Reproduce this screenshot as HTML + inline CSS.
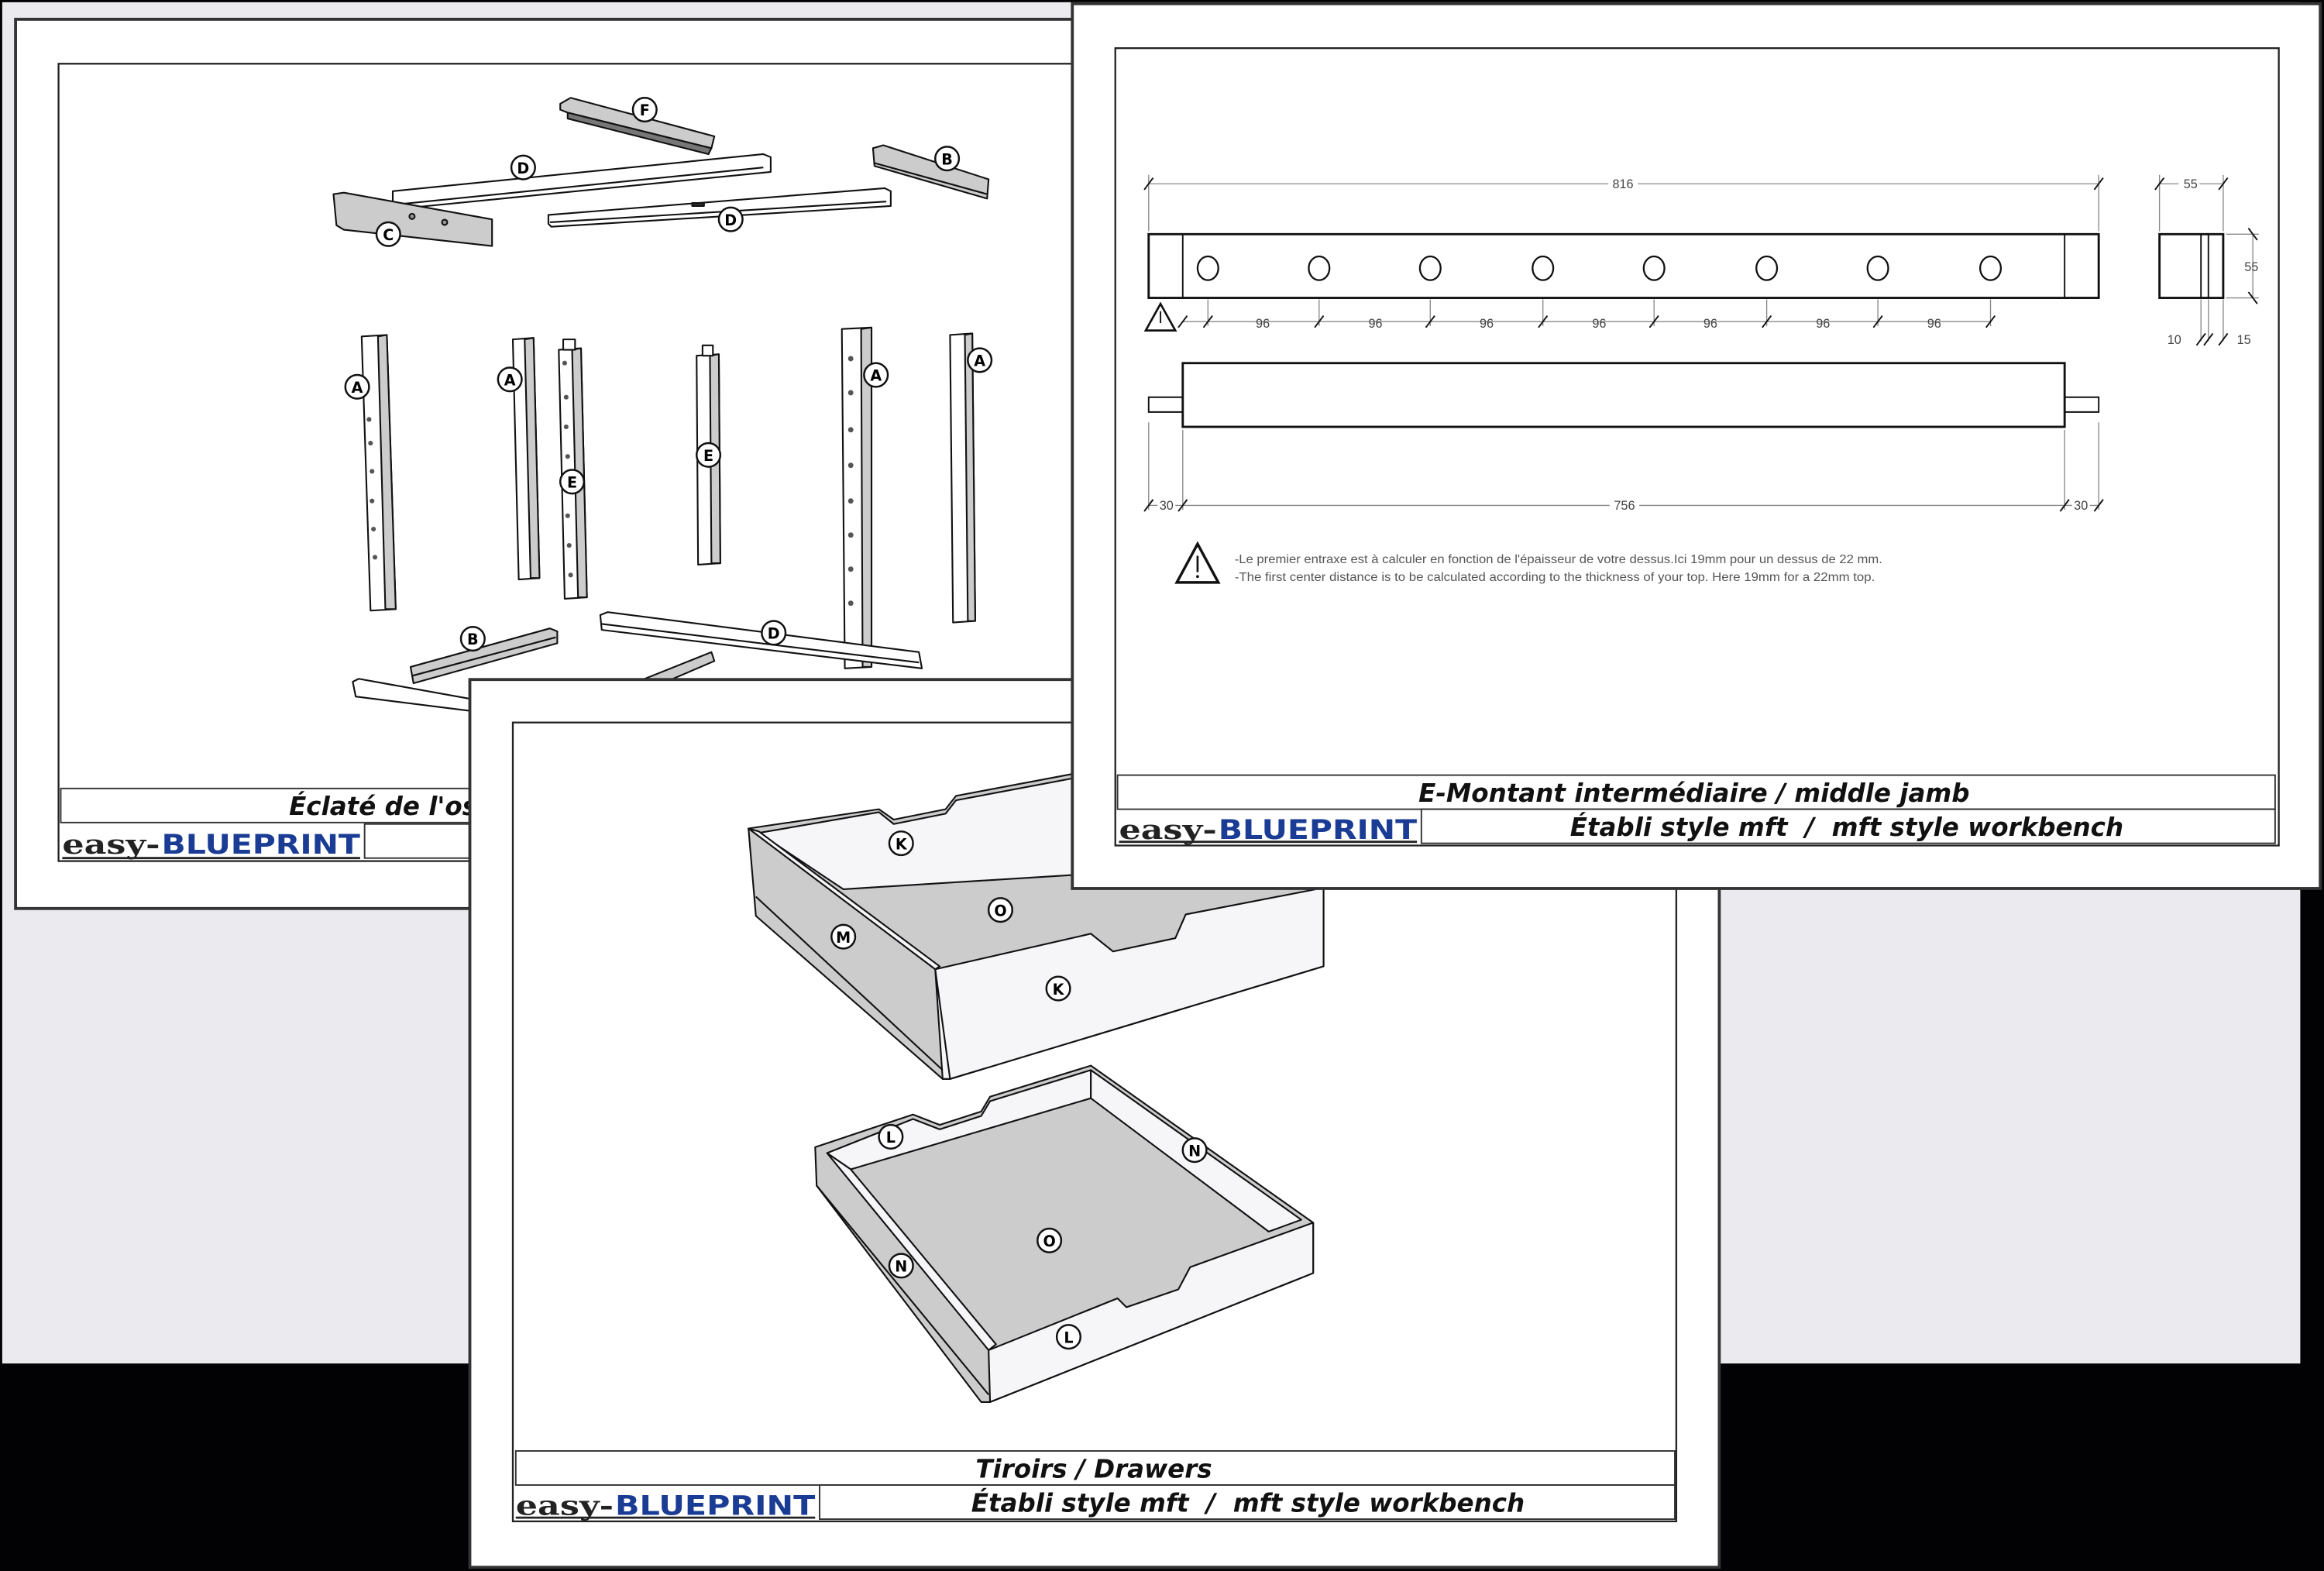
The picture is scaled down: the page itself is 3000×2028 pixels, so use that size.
<!DOCTYPE html>
<html><head><meta charset="utf-8"><style>
html,body{margin:0;padding:0;background:#000;}
svg{display:block}
</style></head><body>
<svg xmlns="http://www.w3.org/2000/svg" width="3000" height="2028" viewBox="0 0 1568 1060" preserveAspectRatio="none" font-family="'DejaVu Sans','Liberation Sans',sans-serif">
<defs>
<g id="lbl"><circle r="8" fill="#fff" stroke="#111" stroke-width="1.3"/></g>
</defs>
<rect x="0" y="0" width="1568" height="1060" fill="#020104"/>
<rect x="1.5" y="1.5" width="1550.5" height="918.5" fill="#ebeaee"/>

<!-- PAGE 1 -->
<rect x="10.5" y="13" width="740" height="600" fill="#fff" stroke="#333" stroke-width="2"/>
<rect x="39.5" y="43" width="700" height="538" fill="#fff" stroke="#222" stroke-width="1.2"/>
<g stroke="#111" stroke-width="1.1" stroke-linejoin="round">
 <polygon points="378,70 385,66 482,92 480,100 383,76 378,74" fill="#ccc"/>
 <polygon points="383,76 480,100 478,104 383,80" fill="#777"/>
 <polygon points="265,129 515,104 520,106 520,116 268,141 265,139" fill="#fff"/>
 <line x1="267" y1="138" x2="515" y2="113"/>
 <polygon points="225,131 232,130 332,148 332,166 232,155 227,152" fill="#ccc"/>
 <circle cx="278" cy="146" r="1.8" fill="#999"/><circle cx="300" cy="150" r="1.8" fill="#999"/>
 <polygon points="370,145 597,127 601,129 601,139 372,153 370,151" fill="#fff"/>
 <line x1="371" y1="150" x2="598" y2="136"/>
 <rect x="467" y="137" width="8" height="2" fill="#333"/>
 <polygon points="589,100 596,98 667,121 666,134 590,112" fill="#ccc"/>
 <line x1="590" y1="110" x2="666" y2="131"/>
 <polygon points="244,227 261,226 267,411 250,412" fill="#fff"/>
 <polygon points="255,227 261,226 267,411 260,411" fill="#ccc"/>
 <polygon points="346,229 360,228 364,390 350,391" fill="#fff"/>
 <polygon points="354,229 360,228 364,390 358,390" fill="#ccc"/>
 <polygon points="377,236 392,235 396,403 381,404" fill="#fff"/>
 <polygon points="386,236 392,235 396,403 390,403" fill="#ccc"/>
 <rect x="380" y="229" width="8" height="7" fill="#fff"/>
 <polygon points="470,240 485,239 486,380 471,381" fill="#fff"/>
 <polygon points="479,240 485,239 486,380 480,380" fill="#ccc"/>
 <rect x="474" y="233" width="7" height="7" fill="#fff"/>
 <polygon points="568,222 588,221 588,450 570,451" fill="#fff"/>
 <polygon points="581,222 588,221 588,450 582,450" fill="#ccc"/>
 <polygon points="641,226 656,225 658,419 643,420" fill="#fff"/>
 <polygon points="651,226 656,225 658,419 653,419" fill="#ccc"/>
 <polygon points="277,450 371,424 376,426 376,434 279,461" fill="#ccc"/>
 <line x1="278" y1="456" x2="375" y2="430"/>
 <polygon points="405,415 410,413 620,440 622,451 406,425" fill="#fff"/>
 <line x1="406" y1="421" x2="620" y2="447"/>
 <polygon points="238,460 242,458 320,472 320,480 240,470" fill="#fff"/>
 <polygon points="430,460 480,440 482,446 440,464" fill="#ccc"/>
</g>
<g fill="#555">
<circle cx="248" cy="260" r="1.6"/><circle cx="249" cy="283" r="1.6"/><circle cx="250" cy="299" r="1.6"/><circle cx="251" cy="318" r="1.6"/><circle cx="251" cy="338" r="1.6"/><circle cx="252" cy="357" r="1.6"/><circle cx="253" cy="376" r="1.6"/>
<circle cx="381" cy="245" r="1.6"/><circle cx="382" cy="268" r="1.6"/><circle cx="382" cy="288" r="1.6"/><circle cx="383" cy="308" r="1.6"/><circle cx="383" cy="348" r="1.6"/><circle cx="384" cy="368" r="1.6"/><circle cx="385" cy="388" r="1.6"/>
<circle cx="574" cy="242" r="1.8"/><circle cx="574" cy="265" r="1.8"/><circle cx="574" cy="290" r="1.8"/><circle cx="574" cy="314" r="1.8"/><circle cx="574" cy="338" r="1.8"/><circle cx="574" cy="361" r="1.8"/><circle cx="574" cy="384" r="1.8"/><circle cx="574" cy="407" r="1.8"/>
</g>
<g font-size="10" font-weight="bold" text-anchor="middle">
<use href="#lbl" x="435" y="74"/><text x="435" y="78">F</text>
<use href="#lbl" x="353" y="113"/><text x="353" y="117">D</text>
<use href="#lbl" x="639" y="107"/><text x="639" y="111">B</text>
<use href="#lbl" x="262" y="158"/><text x="262" y="162">C</text>
<use href="#lbl" x="493" y="148"/><text x="493" y="152">D</text>
<use href="#lbl" x="241" y="261"/><text x="241" y="265">A</text>
<use href="#lbl" x="344" y="256"/><text x="344" y="260">A</text>
<use href="#lbl" x="386" y="325"/><text x="386" y="329">E</text>
<use href="#lbl" x="478" y="307"/><text x="478" y="311">E</text>
<use href="#lbl" x="591" y="253"/><text x="591" y="257">A</text>
<use href="#lbl" x="661" y="243"/><text x="661" y="247">A</text>
<use href="#lbl" x="319" y="431"/><text x="319" y="435">B</text>
<use href="#lbl" x="522" y="427"/><text x="522" y="431">D</text>
</g>
<rect x="41" y="532" width="698" height="23" fill="#fff" stroke="#333" stroke-width="1"/>
<text x="195" y="550" font-size="17" font-weight="bold" font-style="italic" fill="#111">Éclaté de l'ossature / exploded view</text>
<rect x="246" y="556" width="493" height="23" fill="#fff" stroke="#333" stroke-width="1"/>
<text x="42" y="576" font-family="'DejaVu Serif','Liberation Serif',serif" font-weight="bold" font-size="18" fill="#222" textLength="66" lengthAdjust="spacingAndGlyphs">easy-</text>
<text x="109" y="576" font-weight="bold" font-size="18" fill="#1a3c94" textLength="134" lengthAdjust="spacingAndGlyphs">BLUEPRINT</text>
<line x1="42" y1="579" x2="243" y2="579" stroke="#222" stroke-width="1.5"/>

<!-- PAGE 2 -->
<rect x="317" y="458.5" width="843" height="599" fill="#fff" stroke="#333" stroke-width="2"/>
<rect x="346" y="487.5" width="785" height="539" fill="#fff" stroke="#222" stroke-width="1.2"/>
<g stroke="#111" stroke-width="1.1" stroke-linejoin="round">
 <!-- drawer 1 -->
 <polygon points="505,559 593,546 603,553 638,546 645,537 730,521 893,599 893,652 641,728 636,728 510,618" fill="#ccc"/>
 <polygon points="512,562 593,548 603,556 638,549 645,540 730,524 730,590 569,600" fill="#f6f5f8"/>
 <polygon points="505,559 512,561 634,652 631,654" fill="#f6f5f8"/>
 <polygon points="631,654 736,630 751,642 793,633 800,617 893,599 893,652 641,728 636,728" fill="#f6f5f8"/>
 <line x1="631" y1="654" x2="641" y2="728"/>
 <line x1="510" y1="605" x2="636" y2="722"/>
</g>
<g stroke="#111" stroke-width="1.1" stroke-linejoin="round">
 <!-- drawer 2 -->
 <polygon points="550,774 616,752 634,759 662,750 668,740 736,719 886,825 886,859 668,946 662,946 551,800" fill="#ccc"/>
 <polygon points="558,778 616,755 634,762 662,753 668,743 736,722 736,741 574,789" fill="#f6f5f8"/>
 <polygon points="736,722 878,823 856,831 736,741" fill="#f6f5f8"/>
 <polygon points="558,778 574,789 672,907 667,911" fill="#f6f5f8"/>
 <polygon points="667,911 754,876 760,882 795,870 803,855 886,825 886,859 668,946" fill="#f6f5f8"/>
 <line x1="551" y1="800" x2="667" y2="941"/>
</g>
<g font-size="10" font-weight="bold" text-anchor="middle">
<use href="#lbl" x="608" y="569"/><text x="608" y="573">K</text>
<use href="#lbl" x="675" y="614"/><text x="675" y="618">O</text>
<use href="#lbl" x="569" y="632"/><text x="569" y="636">M</text>
<use href="#lbl" x="714" y="667"/><text x="714" y="671">K</text>
<use href="#lbl" x="601" y="767"/><text x="601" y="771">L</text>
<use href="#lbl" x="806" y="776"/><text x="806" y="780">N</text>
<use href="#lbl" x="708" y="837"/><text x="708" y="841">O</text>
<use href="#lbl" x="608" y="854"/><text x="608" y="858">N</text>
<use href="#lbl" x="721" y="902"/><text x="721" y="906">L</text>
</g>
<rect x="348" y="979" width="782" height="23" fill="#fff" stroke="#333" stroke-width="1"/>
<text x="738" y="997" text-anchor="middle" font-size="17" font-weight="bold" font-style="italic" fill="#111">Tiroirs / Drawers</text>
<rect x="553" y="1002" width="577" height="23" fill="#fff" stroke="#333" stroke-width="1"/>
<text x="842" y="1020" text-anchor="middle" font-size="17" font-weight="bold" font-style="italic" fill="#111" xml:space="preserve">Établi style mft  /  mft style workbench</text>
<text x="348" y="1022" font-family="'DejaVu Serif','Liberation Serif',serif" font-weight="bold" font-size="18" fill="#222" textLength="66" lengthAdjust="spacingAndGlyphs">easy-</text>
<text x="415" y="1022" font-weight="bold" font-size="18" fill="#1a3c94" textLength="135" lengthAdjust="spacingAndGlyphs">BLUEPRINT</text>
<line x1="348" y1="1024" x2="550" y2="1024" stroke="#222" stroke-width="1.5"/>

<!-- PAGE 3 -->
<rect x="723.5" y="2.5" width="842" height="597" fill="#fff" stroke="#333" stroke-width="2"/>
<rect x="752.5" y="32.5" width="785" height="538" fill="#fff" stroke="#222" stroke-width="1.2"/>
<g stroke="#111" fill="none">
 <rect x="775" y="158" width="641" height="43" stroke-width="1.5"/>
 <line x1="798" y1="158" x2="798" y2="201"/><line x1="1393" y1="158" x2="1393" y2="201"/>
 <g stroke-width="1.2">
 <ellipse cx="815" cy="181" rx="7" ry="8"/><ellipse cx="890" cy="181" rx="7" ry="8"/><ellipse cx="965" cy="181" rx="7" ry="8"/><ellipse cx="1041" cy="181" rx="7" ry="8"/><ellipse cx="1116" cy="181" rx="7" ry="8"/><ellipse cx="1192" cy="181" rx="7" ry="8"/><ellipse cx="1267" cy="181" rx="7" ry="8"/><ellipse cx="1343" cy="181" rx="7" ry="8"/>
 </g>
 <rect x="1457" y="158" width="43" height="43" stroke-width="1.5"/>
 <line x1="1485" y1="158" x2="1485" y2="201"/><line x1="1490" y1="158" x2="1490" y2="201"/>
 <rect x="798" y="245" width="595" height="43" stroke-width="1.5"/>
 <polyline points="798,268 775,268 775,278 798,278"/>
 <polyline points="1393,268 1416,268 1416,278 1393,278"/>
</g>
<g stroke="#888" stroke-width="0.7" fill="none">
 <line x1="775" y1="124" x2="1416" y2="124"/>
 <line x1="775" y1="118" x2="775" y2="156"/><line x1="1416" y1="118" x2="1416" y2="156"/>
 <line x1="1457" y1="124" x2="1500" y2="124"/><line x1="1457" y1="118" x2="1457" y2="156"/><line x1="1500" y1="118" x2="1500" y2="156"/>
 <line x1="1520" y1="158" x2="1520" y2="201"/><line x1="1502" y1="158" x2="1524" y2="158"/><line x1="1502" y1="201" x2="1524" y2="201"/>
 <line x1="798" y1="217" x2="1343" y2="217"/>
 <line x1="815" y1="202" x2="815" y2="220"/><line x1="890" y1="202" x2="890" y2="220"/><line x1="965" y1="202" x2="965" y2="220"/><line x1="1041" y1="202" x2="1041" y2="220"/><line x1="1116" y1="202" x2="1116" y2="220"/><line x1="1192" y1="202" x2="1192" y2="220"/><line x1="1267" y1="202" x2="1267" y2="220"/><line x1="1343" y1="202" x2="1343" y2="220"/>
 <line x1="1485" y1="202" x2="1485" y2="230"/><line x1="1490" y1="202" x2="1490" y2="230"/><line x1="1500" y1="202" x2="1500" y2="230"/>
 <line x1="775" y1="341" x2="1416" y2="341"/>
 <line x1="775" y1="285" x2="775" y2="344"/><line x1="798" y1="290" x2="798" y2="344"/><line x1="1393" y1="290" x2="1393" y2="344"/><line x1="1416" y1="285" x2="1416" y2="344"/>
</g>
<g stroke="#111" stroke-width="1">
 <line x1="772" y1="128" x2="778" y2="120"/><line x1="1413" y1="128" x2="1419" y2="120"/>
 <line x1="1454" y1="128" x2="1460" y2="120"/><line x1="1497" y1="128" x2="1503" y2="120"/>
 <line x1="1517" y1="154" x2="1523" y2="162"/><line x1="1517" y1="197" x2="1523" y2="205"/>
 <line x1="795" y1="221" x2="801" y2="213"/><line x1="812" y1="221" x2="818" y2="213"/><line x1="887" y1="221" x2="893" y2="213"/><line x1="962" y1="221" x2="968" y2="213"/><line x1="1038" y1="221" x2="1044" y2="213"/><line x1="1113" y1="221" x2="1119" y2="213"/><line x1="1189" y1="221" x2="1195" y2="213"/><line x1="1264" y1="221" x2="1270" y2="213"/><line x1="1340" y1="221" x2="1346" y2="213"/>
 <line x1="1482" y1="233" x2="1488" y2="225"/><line x1="1487" y1="233" x2="1493" y2="225"/><line x1="1497" y1="233" x2="1503" y2="225"/>
 <line x1="772" y1="345" x2="778" y2="337"/><line x1="795" y1="345" x2="801" y2="337"/><line x1="1390" y1="345" x2="1396" y2="337"/><line x1="1413" y1="345" x2="1419" y2="337"/>
</g>
<g font-family="'Liberation Sans',sans-serif" font-size="8.5" fill="#444" text-anchor="middle">
 <rect x="1085" y="119" width="20" height="10" fill="#fff"/><text x="1095" y="127">816</text>
 <rect x="1470" y="119" width="14" height="10" fill="#fff"/><text x="1478" y="127">55</text>
 <text x="1519" y="183">55</text>
 <text x="852" y="221">96</text><text x="928" y="221">96</text><text x="1003" y="221">96</text><text x="1079" y="221">96</text><text x="1154" y="221">96</text><text x="1230" y="221">96</text><text x="1305" y="221">96</text>
 <text x="1467" y="232">10</text><text x="1514" y="232">15</text>
 <rect x="781" y="336" width="12" height="10" fill="#fff"/><text x="787" y="344">30</text>
 <rect x="1086" y="336" width="20" height="10" fill="#fff"/><text x="1096" y="344">756</text>
 <rect x="1398" y="336" width="12" height="10" fill="#fff"/><text x="1404" y="344">30</text>
</g>
<g>
 <polygon points="783,205 773,223 793,223" fill="#fff" stroke="#111" stroke-width="1.4"/>
 <line x1="783" y1="210" x2="783" y2="218" stroke="#111" stroke-width="1"/>
 <polygon points="808,367 794,393 822,393" fill="#fff" stroke="#111" stroke-width="1.8"/>
 <line x1="808" y1="375" x2="808" y2="386" stroke="#111" stroke-width="1.4"/>
 <circle cx="808" cy="389" r="1" fill="#111"/>
</g>
<g font-family="'Liberation Sans',sans-serif" font-size="8.4" fill="#555">
 <text x="833" y="380" textLength="437" lengthAdjust="spacingAndGlyphs">-Le premier entraxe est à calculer en fonction de l'épaisseur de votre dessus.Ici 19mm pour un dessus de 22 mm.</text>
 <text x="833" y="392" textLength="432" lengthAdjust="spacingAndGlyphs">-The first center distance is to be calculated according to the thickness of your top. Here 19mm for a 22mm top.</text>
</g>
<rect x="754" y="523" width="781" height="23" fill="#fff" stroke="#333" stroke-width="1"/>
<text x="1143" y="541" text-anchor="middle" font-size="17" font-weight="bold" font-style="italic" fill="#111">E-Montant intermédiaire / middle jamb</text>
<rect x="959" y="546" width="576" height="23" fill="#fff" stroke="#333" stroke-width="1"/>
<text x="1246" y="564" text-anchor="middle" font-size="17" font-weight="bold" font-style="italic" fill="#111" xml:space="preserve">Établi style mft  /  mft style workbench</text>
<text x="755" y="566" font-family="'DejaVu Serif','Liberation Serif',serif" font-weight="bold" font-size="18" fill="#222" textLength="66" lengthAdjust="spacingAndGlyphs">easy-</text>
<text x="822" y="566" font-weight="bold" font-size="18" fill="#1a3c94" textLength="134" lengthAdjust="spacingAndGlyphs">BLUEPRINT</text>
<line x1="755" y1="568" x2="956" y2="568" stroke="#222" stroke-width="1.5"/>
</svg>
</body></html>
